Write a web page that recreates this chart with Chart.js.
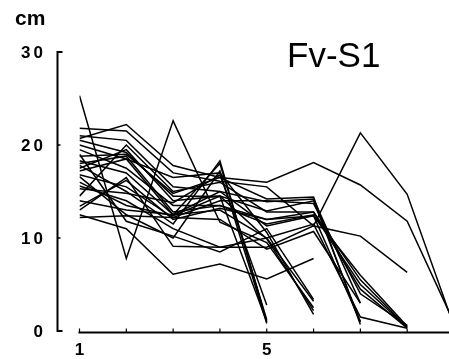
<!DOCTYPE html>
<html>
<head>
<meta charset="utf-8">
<script src="https://cdn.jsdelivr.net/npm/chart.js@4.4.1/dist/chart.umd.min.js"></script>
<style>
  html, body { margin: 0; padding: 0; background: #fff; overflow: hidden; }
  #wrap { position: relative; width: 456px; height: 359px; }
</style>
</head>
<body>
<div id="wrap"><canvas id="growthChart"></canvas></div>
<script>
// x positions (sampling occasions) and axis labels
const occasions = [1, 2, 3, 4, 5, 6, 7, 8, 9];
const xTickLabels = { 1: '1', 5: '5' };
const yTickValues = [0, 10, 20, 30];
const yUnit = 'cm';
const panelTitle = 'Fv-S1';

// one array per individual, values in cm
const s01 = [25.3, 7.8, 22.6, 11.7, 9.5, 2.5];
const s02 = [20.7, 22.2, 17.8, 16.5, 16.0, 18.1, 15.7, 11.8, 0.9];
const s03 = [21.8, 21.5, 17.0, 16.1, 15.5, 11.3, 21.3, 14.7, 0.5];
const s04 = [18.8, 19.0, 14.8, 16.5, 14.2, 14.4, 0.7];
const s05 = [17.2, 18.5, 12.5, 15.0, 13.9, 14.2, 3.0];
const s06 = [16.0, 13.5, 12.4, 14.5, 12.9, 14.0, 1.0];
const s07 = [19.5, 17.5, 13.5, 13.5, 11.5, 12.5, 5.0, 0.4];
const s08 = [14.5, 20.0, 15.0, 16.0, 12.8, 12.8, 4.5, 0.3];
const s09 = [13.4, 16.2, 12.0, 13.2, 12.0, 12.4, 6.0, 0.5];
const s10 = [12.2, 12.4, 12.2, 14.0, 14.0, 13.7, 4.0, 0.6];
const s11 = [15.6, 14.0, 11.0, 9.0, 10.0, 11.5, 1.5, 0.3];
const s12 = [12.5, 11.0, 6.1, 7.2, 5.6, 7.8];
const s13 = [17.8, 15.0, 11.5, 18.3, 1.0];
const s14 = [18.3, 17.0, 12.5, 18.0, 1.2];
const s15 = [16.6, 12.5, 10.0, 17.2, 0.8];
const s16 = [15.3, 14.8, 13.8, 16.8, 2.8];
const s17 = [20.0, 18.5, 16.5, 17.0, 10.6, 1.8];
const s18 = [14.0, 13.0, 12.5, 13.0, 10.0, 3.2];
const s19 = [13.0, 16.5, 9.1, 9.0, 9.0, 11.3, 10.2, 6.3];
const s20 = [17.5, 19.5, 14.0, 14.5, 9.9, 2.2];
const s21 = [21.0, 20.5, 15.5, 15.0, 11.3, 12.4, 1.0];
const s22 = [18.0, 18.8, 12.8, 13.5, 12.0, 12.8, 5.5, 0.4];
const s23 = [16.8, 15.5, 12.2, 12.0, 8.8, 10.7, 3.0];
const s24 = [19.0, 11.8, 10.2, 8.5, 11.0, 3.4];
const s25 = [20.5, 19.2, 14.5, 14.5, 1.0];

const allSeries = [s01, s02, s03, s04, s05, s06, s07, s08, s09, s10, s11, s12, s13,
  s14, s15, s16, s17, s18, s19, s20, s21, s22, s23, s24, s25];

const datasets = allSeries.map(vals => ({
  data: vals.map((v, i) => ({ x: occasions[i], y: v })),
  borderColor: '#000',
  borderWidth: 1.5,
  pointRadius: 0,
  fill: false,
  tension: 0
}));

const FONT = '"Liberation Sans", Arial, sans-serif';

// axes drawn by hand so the y axis can sit apart from the x axis
const axesPlugin = {
  id: 'axes',
  afterDraw(chart) {
    const { ctx, scales: { x, y } } = chart;
    ctx.save();
    ctx.strokeStyle = '#000';
    ctx.fillStyle = '#000';
    ctx.lineWidth = 2;

    const ax = x.getPixelForValue(occasions[0]) - 22;
    const yBot = y.getPixelForValue(0);
    const yTop = y.getPixelForValue(30);

    // y axis with bracket ends
    ctx.beginPath();
    ctx.moveTo(ax + 5, yTop);
    ctx.lineTo(ax, yTop);
    ctx.lineTo(ax, yBot);
    ctx.lineTo(ax + 5, yBot);
    ctx.stroke();
    ctx.lineWidth = 1.5;
    yTickValues.forEach(v => {
      const py = y.getPixelForValue(v);
      ctx.beginPath();
      ctx.moveTo(ax, py);
      ctx.lineTo(ax + 3, py);
      ctx.stroke();
    });

    // x axis
    const xb = yBot + 1.5;
    ctx.lineWidth = 2;
    ctx.beginPath();
    ctx.moveTo(x.getPixelForValue(occasions[0]) - 1, xb);
    ctx.lineTo(chart.width, xb);
    ctx.stroke();
    ctx.lineWidth = 1.2;
    occasions.forEach(v => {
      const px = x.getPixelForValue(v);
      ctx.beginPath();
      ctx.moveTo(px, xb);
      ctx.lineTo(px, xb - 4);
      ctx.stroke();
    });

    // tick labels
    ctx.font = 'bold 17px ' + FONT;
    ctx.textBaseline = 'middle';
    ctx.textAlign = 'left';
    ctx.letterSpacing = '3px';
    yTickValues.forEach(v => {
      const label = String(v);
      const w = ctx.measureText(label).width - 3;
      ctx.fillText(label, 43 - w, y.getPixelForValue(v) + 1);
    });
    ctx.letterSpacing = '0px';
    ctx.textAlign = 'center';
    ctx.font = 'bold 17px ' + FONT;
    Object.keys(xTickLabels).forEach(k => {
      ctx.fillText(xTickLabels[k], x.getPixelForValue(Number(k)), 350);
    });

    // unit and panel title
    ctx.textAlign = 'left';
    ctx.textBaseline = 'alphabetic';
    ctx.font = 'bold 21px ' + FONT;
    ctx.fillText(yUnit, 15, 25);
    ctx.font = '35px ' + FONT;
    ctx.fillText(panelTitle, 287, 67);
    ctx.restore();
  }
};

new Chart(document.getElementById('growthChart'), {
  type: 'line',
  data: { datasets },
  options: {
    responsive: true,
    maintainAspectRatio: false,
    animation: false,
    layout: { padding: { left: 79.5, right: 2, top: 52, bottom: 28 } },
    scales: {
      x: { type: 'linear', min: 1, max: 9, display: false },
      y: { min: 0, max: 30, display: false }
    },
    plugins: {
      legend: { display: false },
      tooltip: { enabled: false },
      title: { display: false }
    }
  },
  plugins: [axesPlugin]
});
</script>
</body>
</html>
